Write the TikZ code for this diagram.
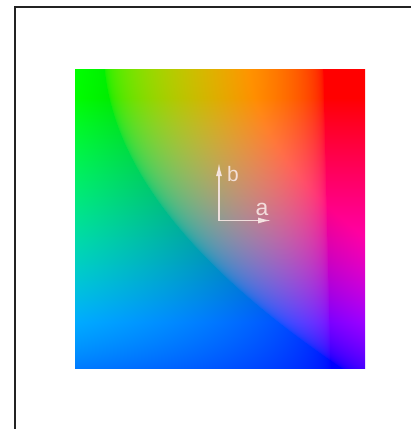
\documentclass[tikz,border=0pt]{standalone}
\usepackage{fontspec}
\setmainfont{Liberation Sans}
\usetikzlibrary{arrows.meta}
% a*-b* plane: each channel is a simple function of the position in linear light,
% clipped to [0,1] and gamma encoded.
\pgfdeclarefunctionalshading{labplane}{\pgfpointorigin}{\pgfpoint{290bp}{300bp}}{}{
  300 div 1 exch sub exch 290 div exch
  2 copy
  dup dup mul 0.72 mul exch 0.1 mul add 0.1 add
  sub
  1 index dup mul -1.2 mul 2 add mul
  dup 0 lt {pop 0} if dup 1 gt {pop 1} if 0.4545 exp
  3 1 roll
  2 copy
  dup 0.025 mul 0.855 add
  3 -1 roll exch div 1 exch sub exch
  dup dup mul -0.7 mul exch -0.1 mul add 1 add mul
  dup 0 lt {pop 0} if dup 1 gt {pop 1} if 0.4545 exp
  3 1 roll
  exch pop 0.1 sub dup 0 lt {pop 0} if
  dup mul 1.8 mul
  dup 0 lt {pop 0} if dup 1 gt {pop 1} if 0.4545 exp
}
\definecolor{framecol}{RGB}{35,35,35}
\definecolor{axiscol}{RGB}{248,232,230}
\tikzset{
  planenode/.style={inner sep=0pt, outer sep=0pt, anchor=south west},
  frameline/.style={draw=framecol, line width=2bp},
  axisarrow/.style={draw=axiscol, line width=1.3bp, opacity=0.9, -{Latex[length=13bp,width=6bp]}},
  axislabel/.style={text=axiscol, opacity=0.9, inner sep=0pt}
}
\begin{document}
\begin{tikzpicture}[x=1bp,y=-1bp]
\useasboundingbox (0,0) rectangle (411,429);
\fill[white] (0,0) rectangle (411,429);
\draw[frameline] (15,429) -- (15,7) -- (411,7);
\node[planenode] (plane) at (75,368) {\pgfuseshading{labplane}};
\coordinate (o) at (219,220.5);
\coordinate (btop) at (219,163);
\coordinate (aend) at (271,220.5);
\draw[axisarrow] (o) -- (btop);
\draw[axisarrow] (o) -- (aend);
\node[axislabel, font=\fontsize{21}{21}\selectfont, anchor=base west] (lb) at (227,181) {b};
\node[axislabel, font=\fontsize{23}{23}\selectfont, anchor=base west] (la) at (255.5,215) {a};
\end{tikzpicture}
\end{document}
